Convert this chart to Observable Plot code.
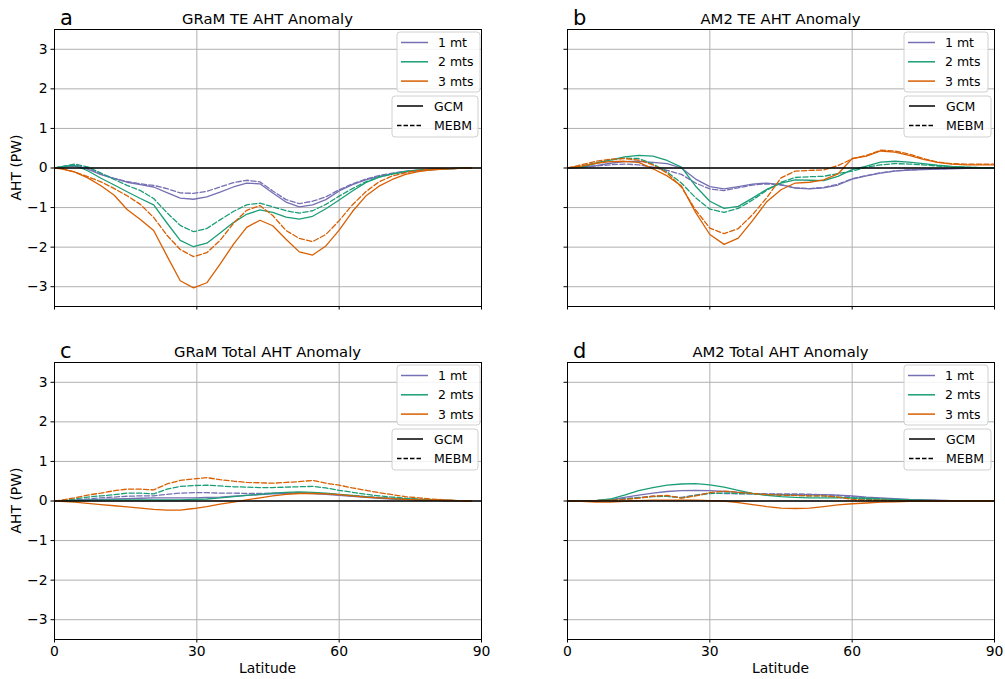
<!DOCTYPE html>
<html><head><meta charset="utf-8">
<script src="https://cdn.jsdelivr.net/npm/d3@7"></script>
<script src="https://cdn.jsdelivr.net/npm/@observablehq/plot@0.6"></script>
<style>
html,body{margin:0;padding:0;background:#fff;}
#fig{position:relative;width:1005px;height:679px;overflow:hidden;font-family:"DejaVu Sans",sans-serif;background:#fff;}
#fig > svg{position:absolute;}
</style></head><body><div id="fig"></div>
<script>
// ---------- data ----------
const latGRaM = [0,1.4,4.2,7.0,9.8,12.6,15.3,18.1,20.9,23.7,26.5,29.3,32.1,34.9,37.7,40.5,43.3,46.0,48.8,51.6,54.4,57.2,60.0,62.8,65.6,68.4,71.2,74.0,76.7,79.5,82.3,85.1,87.9];
const latAM2 = [0,3,6,9,12,15,18,21,24,27,30,33,36,39,42,45,48,51,54,57,60,63,66,69,72,75,78,81,84,87,90];

const seriesNames = ["1 mt","2 mts","3 mts"];
const modelNames = ["GCM","MEBM"];
const seriesColors = ["#7570b3","#1b9e77","#d95f02"];
const panelLetters = ["a","b","c","d"];
const panelTitles = ["GRaM TE AHT Anomaly","AM2 TE AHT Anomaly","GRaM Total AHT Anomaly","AM2 Total AHT Anomaly"];
const xTicks = [0,30,60,90];
const yTicks = [-3,-2,-1,0,1,2,3];
const xLabel = "Latitude";
const yLabel = "AHT (PW)";

// panel a: GRaM TE
const a_1mt_GCM  = [0,0.02,0.05,-0.03,-0.17,-0.27,-0.36,-0.42,-0.48,-0.62,-0.76,-0.79,-0.73,-0.61,-0.48,-0.38,-0.4,-0.63,-0.86,-0.98,-0.93,-0.8,-0.58,-0.42,-0.3,-0.21,-0.15,-0.1,-0.07,-0.04,-0.02,-0.01,0];
const a_1mt_MEBM = [0,0.03,0.08,0.0,-0.15,-0.26,-0.34,-0.4,-0.44,-0.52,-0.63,-0.64,-0.59,-0.48,-0.37,-0.31,-0.35,-0.58,-0.8,-0.9,-0.84,-0.73,-0.55,-0.4,-0.28,-0.19,-0.13,-0.08,-0.05,-0.03,-0.02,-0.01,0];
const a_2mt_GCM  = [0,0.03,0.07,-0.07,-0.26,-0.43,-0.6,-0.77,-0.93,-1.39,-1.83,-1.99,-1.9,-1.64,-1.38,-1.17,-1.06,-1.12,-1.24,-1.29,-1.22,-1.03,-0.81,-0.58,-0.37,-0.23,-0.15,-0.09,-0.06,-0.04,-0.02,-0.01,0];
const a_2mt_MEBM = [0,0.03,0.1,0.03,-0.13,-0.29,-0.44,-0.57,-0.77,-1.13,-1.45,-1.61,-1.53,-1.31,-1.1,-0.93,-0.89,-0.98,-1.08,-1.14,-1.08,-0.92,-0.71,-0.52,-0.35,-0.23,-0.15,-0.09,-0.05,-0.03,-0.02,-0.01,0];
const a_3mt_GCM  = [0,-0.02,-0.1,-0.25,-0.45,-0.69,-1.05,-1.3,-1.58,-2.22,-2.85,-3.03,-2.9,-2.43,-1.93,-1.5,-1.32,-1.46,-1.8,-2.12,-2.2,-1.97,-1.57,-1.1,-0.71,-0.46,-0.29,-0.16,-0.09,-0.05,-0.02,-0.01,0];
const a_3mt_MEBM = [0,-0.01,-0.1,-0.22,-0.35,-0.52,-0.7,-0.92,-1.25,-1.7,-2.06,-2.24,-2.14,-1.83,-1.4,-1.07,-0.95,-1.2,-1.58,-1.78,-1.86,-1.68,-1.33,-0.93,-0.6,-0.35,-0.2,-0.12,-0.06,-0.03,-0.02,-0.01,0];

// panel b: AM2 TE
const b_1mt_GCM  = [0,0.02,0.06,0.12,0.16,0.17,0.14,0.11,0.0,-0.28,-0.47,-0.53,-0.47,-0.41,-0.38,-0.42,-0.51,-0.53,-0.5,-0.43,-0.28,-0.2,-0.13,-0.08,-0.05,-0.04,-0.03,-0.02,-0.01,0,0];
const b_1mt_MEBM = [0,0.01,0.05,0.08,0.1,0.08,0.02,-0.06,-0.16,-0.38,-0.53,-0.57,-0.5,-0.43,-0.4,-0.43,-0.5,-0.52,-0.49,-0.41,-0.27,-0.19,-0.12,-0.07,-0.05,-0.03,-0.02,-0.01,0,0,0];
const b_2mt_GCM  = [0,0.02,0.12,0.2,0.28,0.32,0.3,0.19,0.02,-0.46,-0.84,-1.02,-0.97,-0.76,-0.54,-0.38,-0.3,-0.31,-0.32,-0.21,-0.04,0.05,0.15,0.17,0.15,0.11,0.07,0.04,0.02,0.01,0];
const b_2mt_MEBM = [0,0.05,0.13,0.2,0.25,0.24,0.1,-0.1,-0.38,-0.75,-1.04,-1.12,-1.02,-0.81,-0.56,-0.36,-0.24,-0.22,-0.21,-0.14,-0.08,0.02,0.08,0.11,0.1,0.08,0.05,0.03,0.02,0.01,0];
const b_3mt_GCM  = [0,0.05,0.12,0.16,0.17,0.14,-0.02,-0.2,-0.45,-1.12,-1.68,-1.93,-1.77,-1.33,-0.85,-0.55,-0.38,-0.36,-0.3,-0.15,0.24,0.3,0.43,0.4,0.32,0.22,0.14,0.1,0.08,0.08,0.08];
const b_3mt_MEBM = [0,0.08,0.17,0.22,0.24,0.2,0.08,-0.13,-0.48,-1.06,-1.52,-1.66,-1.53,-1.18,-0.75,-0.25,-0.08,-0.06,-0.05,0.06,0.23,0.32,0.45,0.43,0.35,0.24,0.15,0.11,0.1,0.1,0.1];

// panel c: GRaM Total
const c_1mt_GCM  = [0,0,0.02,0.03,0.04,0.05,0.06,0.07,0.08,0.08,0.08,0.08,0.09,0.1,0.12,0.14,0.16,0.18,0.19,0.2,0.19,0.17,0.14,0.12,0.09,0.07,0.05,0.04,0.03,0.02,0.01,0.01,0];
const c_1mt_MEBM = [0,0.01,0.03,0.05,0.08,0.1,0.12,0.13,0.13,0.17,0.2,0.21,0.21,0.2,0.2,0.19,0.19,0.2,0.21,0.21,0.2,0.18,0.16,0.13,0.11,0.09,0.07,0.05,0.04,0.03,0.02,0.01,0];
const c_2mt_GCM  = [0,0,0.01,0.02,0.02,0.03,0.03,0.03,0.03,0.03,0.03,0.04,0.05,0.08,0.11,0.14,0.17,0.2,0.22,0.23,0.22,0.2,0.17,0.14,0.11,0.08,0.06,0.05,0.03,0.02,0.01,0.01,0];
const c_2mt_MEBM = [0,0.01,0.05,0.1,0.13,0.16,0.2,0.2,0.18,0.3,0.37,0.39,0.4,0.38,0.36,0.35,0.34,0.34,0.35,0.36,0.37,0.33,0.27,0.22,0.17,0.13,0.1,0.07,0.05,0.03,0.02,0.01,0.01];
const c_3mt_GCM  = [0,-0.01,-0.03,-0.06,-0.09,-0.12,-0.15,-0.18,-0.21,-0.23,-0.23,-0.19,-0.14,-0.08,-0.03,0.03,0.08,0.13,0.17,0.19,0.19,0.18,0.16,0.13,0.1,0.08,0.06,0.04,0.03,0.02,0.01,0.01,0];
const c_3mt_MEBM = [0,0.02,0.08,0.15,0.2,0.26,0.3,0.3,0.28,0.43,0.52,0.56,0.59,0.54,0.5,0.47,0.46,0.45,0.47,0.49,0.52,0.45,0.4,0.33,0.27,0.21,0.16,0.11,0.08,0.05,0.03,0.01,0.01];

// panel d: AM2 Total
const d_1mt_GCM  = [0,0,0.01,0.03,0.09,0.15,0.2,0.24,0.26,0.27,0.26,0.24,0.22,0.19,0.17,0.16,0.16,0.16,0.16,0.15,0.13,0.1,0.08,0.06,0.04,0.03,0.02,0.01,0.01,0,0];
const d_1mt_MEBM = [0,0,0.01,0.03,0.06,0.09,0.12,0.12,0.09,0.15,0.2,0.19,0.18,0.18,0.18,0.18,0.18,0.17,0.16,0.14,0.11,0.08,0.06,0.04,0.03,0.02,0.01,0.01,0,0,0];
const d_2mt_GCM  = [0,0,0.01,0.05,0.15,0.26,0.34,0.4,0.43,0.44,0.41,0.35,0.27,0.19,0.14,0.11,0.09,0.08,0.08,0.08,0.08,0.07,0.05,0.04,0.03,0.02,0.01,0.01,0,0,0];
const d_2mt_MEBM = [0,0,0.01,0.02,0.05,0.08,0.11,0.12,0.08,0.14,0.19,0.2,0.19,0.18,0.16,0.15,0.14,0.13,0.13,0.1,0.07,0.04,0.03,0.02,0.01,0.01,0,0,0,0,0];
const d_3mt_GCM  = [0,-0.01,-0.03,-0.03,-0.01,0.01,0.02,0.02,0.02,0.02,0.01,0,-0.04,-0.09,-0.14,-0.18,-0.19,-0.18,-0.14,-0.1,-0.07,-0.05,-0.03,-0.02,-0.01,-0.01,0,0,0,0,0];
const d_3mt_MEBM = [0,0,0.01,0.02,0.04,0.07,0.12,0.14,0.07,0.13,0.21,0.25,0.22,0.19,0.16,0.15,0.14,0.13,0.13,0.1,0.04,0.02,0.02,0.01,0.01,0,0,0,0,0,0];

// ---------- layout ----------
const panels = [
  {lat: latGRaM, GCM:[a_1mt_GCM,a_2mt_GCM,a_3mt_GCM], MEBM:[a_1mt_MEBM,a_2mt_MEBM,a_3mt_MEBM], col:0, row:0},
  {lat: latAM2,  GCM:[b_1mt_GCM,b_2mt_GCM,b_3mt_GCM], MEBM:[b_1mt_MEBM,b_2mt_MEBM,b_3mt_MEBM], col:1, row:0},
  {lat: latGRaM, GCM:[c_1mt_GCM,c_2mt_GCM,c_3mt_GCM], MEBM:[c_1mt_MEBM,c_2mt_MEBM,c_3mt_MEBM], col:0, row:1},
  {lat: latAM2,  GCM:[d_1mt_GCM,d_2mt_GCM,d_3mt_GCM], MEBM:[d_1mt_MEBM,d_2mt_MEBM,d_3mt_MEBM], col:1, row:1}
];

const FONT = '"DejaVu Sans", sans-serif';
const fig = document.getElementById("fig");
const ML = 54, MT = 29, FW = 427, FH = 277, W = 491;
const dash = "5.2,2.3";
const minus = d => d < 0 ? "\u2212" + Math.abs(d) : String(d);

panels.forEach((p, k) => {
  const rows = [];
  seriesNames.forEach((s, i) => {
    modelNames.forEach(m => {
      p[m][i].forEach((v, j) => rows.push({lat: p.lat[j], v, s, m, key: s + "|" + m}));
    });
  });
  const left = p.col ? 513 : 0;
  const top = p.row ? 333 : 0;
  const MB = p.row ? 40 : 10;
  const marks = [
    Plot.gridX(xTicks, {stroke: "#b0b0b0", strokeOpacity: 1, strokeWidth: 1}),
    Plot.gridY(yTicks, {stroke: "#b0b0b0", strokeOpacity: 1, strokeWidth: 1})
  ];
  seriesNames.forEach(s => {
    marks.push(Plot.line(rows.filter(r => r.s === s && r.m === "GCM"), {x: "lat", y: "v", stroke: "s", strokeWidth: 1.3}));
    marks.push(Plot.line(rows.filter(r => r.s === s && r.m === "MEBM"), {x: "lat", y: "v", stroke: "s", strokeWidth: 1.3, strokeDasharray: dash}));
  });
  marks.push(Plot.ruleY([0], {stroke: "black", strokeWidth: 1.5}));
  marks.push(Plot.frame({stroke: "black", strokeWidth: 1}));
  marks.push(Plot.axisX(xTicks, {tickSize: 3.5, tickPadding: 3.5, label: null, tickFormat: p.row ? (d => String(d)) : (() => "")}));
  marks.push(Plot.axisY(yTicks, {tickSize: 3.5, tickPadding: 3.5, label: null, tickFormat: p.col ? (() => "") : minus}));
  const svg = Plot.plot({
    width: W, height: MT + FH + MB,
    marginLeft: ML, marginRight: W - ML - FW, marginTop: MT, marginBottom: MB,
    style: {fontFamily: FONT, fontSize: "13.9px", color: "black", background: "transparent", overflow: "visible"},
    x: {domain: [0, 90], label: null},
    y: {domain: [-3.5, 3.5], label: null},
    color: {domain: seriesNames, range: seriesColors},
    marks
  });
  svg.style.left = left + "px";
  svg.style.top = top + "px";
  svg.style.maxWidth = "none";
  fig.appendChild(svg);
});

// ---------- overlay: letters, titles, axis labels, legends ----------
const ov = d3.select(fig).append("svg")
  .attr("width", 1005).attr("height", 679)
  .style("left", "0px").style("top", "0px")
  .style("pointer-events", "none")
  .style("font-family", FONT);

panels.forEach((p, k) => {
  const fx = (p.col ? 513 : 0) + ML;
  const fy = (p.row ? 333 : 0) + MT;
  ov.append("text").attr("x", fx + 6).attr("y", fy - 4)
    .attr("font-size", 21).text(panelLetters[k]);
  ov.append("text").attr("x", fx + FW / 2).attr("y", fy - 5)
    .attr("font-size", 14.8).attr("text-anchor", "middle").text(panelTitles[k]);
  if (!p.col) {
    ov.append("text").attr("transform", `translate(21,${fy + FH / 2}) rotate(-90)`)
      .attr("font-size", 13.9).attr("text-anchor", "middle").text(yLabel);
  }
  if (p.row) {
    ov.append("text").attr("x", fx + FW / 2).attr("y", fy + FH + 34)
      .attr("font-size", 13.9).attr("text-anchor", "middle").text(xLabel);
  }
  // legend 1: series colours
  const b1x = fx + FW - (p.col ? 90 : 84), b1y = fy + 3;
  const g1 = ov.append("g");
  g1.append("rect").attr("x", b1x).attr("y", b1y).attr("width", p.col ? 84 : 83).attr("height", 60)
    .attr("rx", 3).attr("fill", "white").attr("fill-opacity", 0.85).attr("stroke", "#d0d0d0");
  seriesNames.forEach((s, i) => {
    const yy = b1y + 10.5 + i * 19.3;
    g1.append("line").attr("x1", b1x + 4).attr("x2", b1x + 31).attr("y1", yy).attr("y2", yy)
      .attr("stroke", seriesColors[i]).attr("stroke-width", 1.5);
    g1.append("text").attr("x", b1x + 41).attr("y", yy + 4.5).attr("font-size", 12.5).text(s);
  });
  // legend 2: line styles
  const b2x = fx + FW - (p.col ? 90 : 89), b2y = fy + 67;
  const g2 = ov.append("g");
  g2.append("rect").attr("x", b2x).attr("y", b2y).attr("width", p.col ? 87 : 86).attr("height", 41)
    .attr("rx", 3).attr("fill", "white").attr("fill-opacity", 0.85).attr("stroke", "#d0d0d0");
  modelNames.forEach((m, i) => {
    const yy = b2y + 10 + i * 19.5;
    g2.append("line").attr("x1", b2x + 5).attr("x2", b2x + 31).attr("y1", yy).attr("y2", yy)
      .attr("stroke", "black").attr("stroke-width", 1.5)
      .attr("stroke-dasharray", m === "MEBM" ? "4.5,2" : null);
    g2.append("text").attr("x", b2x + 42).attr("y", yy + 4.5).attr("font-size", 12.5).text(m);
  });
});
</script></body></html>
